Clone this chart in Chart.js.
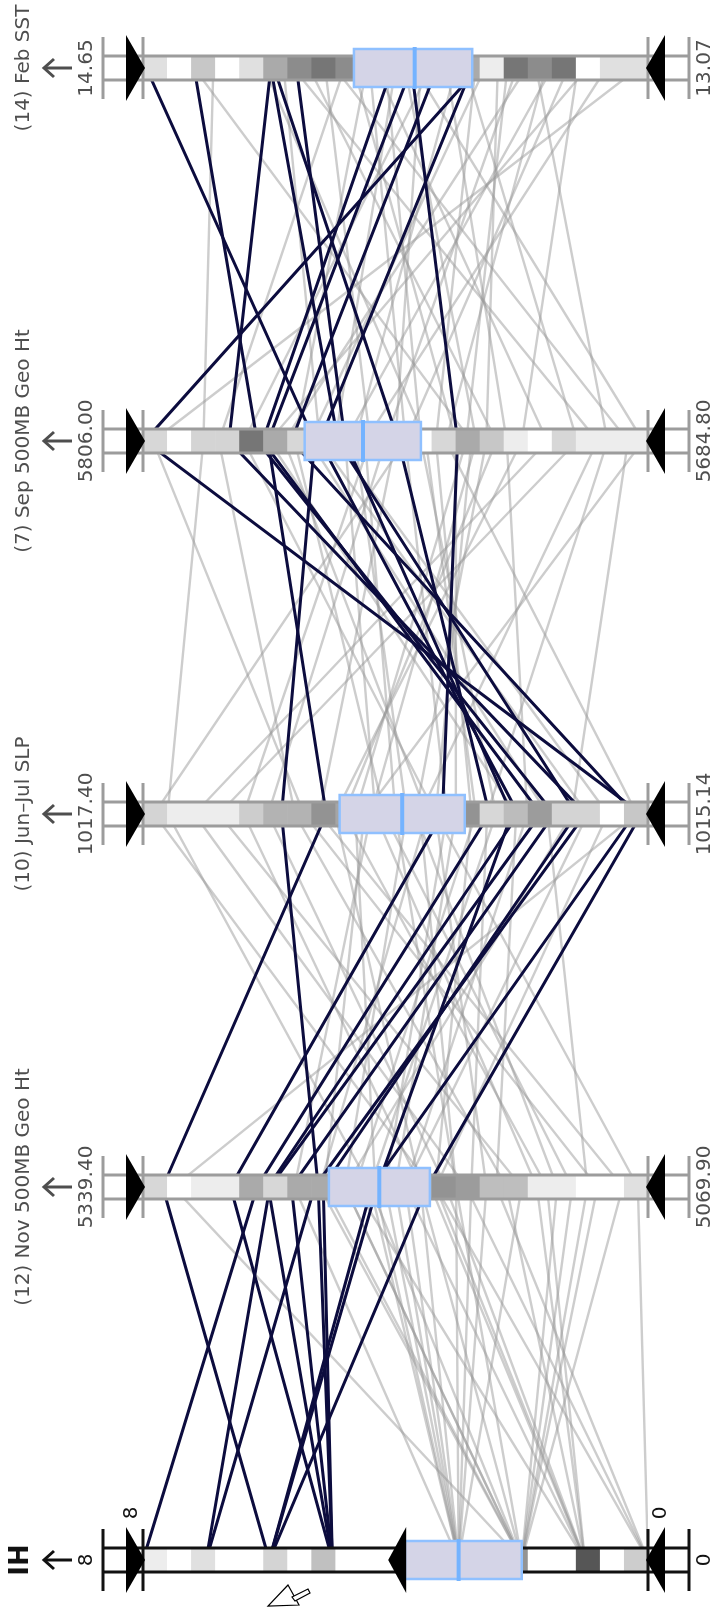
<!DOCTYPE html>
<html lang="en">
<head>
<meta charset="utf-8"/>
<title>Intense hurricanes - parallel coordinates</title>
<script src="https://cdn.jsdelivr.net/npm/chart.js@4.4.0/dist/chart.umd.min.js"></script>
<style>
    body { margin: 0; background: #fff; }
    .wrap { width: 720px; height: 1608px; position: relative; }
</style>
</head>
<body>
<div class="wrap"><canvas id="chart1"></canvas></div>
<script>
// axes, top to bottom
var axisNames = ['(14) Feb SST', '(7) Sep 500MB Geo Ht', '(10) Jun\u2013Jul SLP', '(12) Nov 500MB Geo Ht', 'IH'];
var axisMax = [14.65, 5806.00, 1017.40, 5339.40, 8];
var axisMin = [13.07, 5684.80, 1015.14, 5069.90, 0];
var axisDecimals = [2, 2, 2, 2, 0];

// quartile box per axis (upper quartile, median, lower quartile)
var boxHigh = [13.99, 5767.2, 1016.52, 5240.2, 3.85];
var boxMid = [13.80, 5753.2, 1016.24, 5213.3, 3.0];
var boxLow = [13.62, 5739.3, 1015.96, 5186.3, 2.0];

// density strip along each axis, 21 bins from max to min
var febDensity = [0.17, 0, 0.31, 0, 0.17, 0.47, 0.64, 0.76, 0.64, 0.5, 0.4, 0.5, 0.4, 0.47, 0.1, 0.76, 0.64, 0.76, 0, 0.17, 0.17];
var sepDensity = [0.22, 0, 0.24, 0.24, 0.76, 0.47, 0.22, 0.5, 0.6, 0.6, 0.5, 0, 0.22, 0.47, 0.31, 0.1, 0, 0.22, 0.1, 0.1, 0.1];
var junDensity = [0.24, 0.1, 0.1, 0.1, 0.28, 0.42, 0.42, 0.6, 0.5, 0.6, 0.5, 0.6, 0.5, 0.6, 0.22, 0.37, 0.55, 0.24, 0.24, 0, 0.31];
var novDensity = [0.22, 0, 0.1, 0.1, 0.47, 0.22, 0.47, 0.47, 0.5, 0.6, 0.6, 0.5, 0.6, 0.55, 0.36, 0.36, 0.1, 0.1, 0, 0, 0.17];
var ihDensity = [0.1, 0, 0.17, 0, 0, 0.24, 0, 0.35, 0, 0, 0, 0.5, 0.5, 0.6, 0.5, 0.6, 0, 0, 0.94, 0, 0.28];

// one entry per year
var febSST = [14.64, 14.49, 14.25, 14.25, 14.24, 14.17, 13.87, 13.81, 13.81, 13.73, 13.62, 13.60,
    14.43, 14.18, 14.13, 14.08, 14.05, 14.02, 13.99, 13.95, 13.92, 13.89, 13.86, 13.83, 13.78, 13.75, 13.70, 13.67, 13.64, 13.61,
    13.58, 13.51, 13.48, 13.45, 13.42, 13.39, 13.37, 13.32, 13.29, 13.26, 13.20, 13.10, 14.27, 14.21, 14.49, 13.80, 13.94, 13.54];
var sepGeoHt = [5764.8, 5778.6, 5785.4, 5759.2, 5744.7, 5757.5, 5777.3, 5730.5, 5776.0, 5770.4, 5763.6, 5805.6,
    5791.5, 5696.9, 5721.2, 5751.5, 5689.6, 5787.8, 5730.9, 5769.6, 5709.0, 5739.3, 5759.9, 5726.0, 5745.4, 5781.8, 5718.7, 5755.1,
    5701.8, 5735.7, 5766.0, 5728.4, 5747.8, 5772.1, 5694.5, 5733.3, 5757.5, 5743.0, 5715.1, 5775.7, 5752.7, 5803.6, 5738.1, 5763.6,
    5727.2, 5686.0, 5743.0, 5723.6];
var junJulSLP = [1016.78, 1015.56, 1015.42, 1015.46, 1015.85, 1015.75, 1015.62, 1016.06, 1016.58, 1015.20, 1015.72, 1015.17,
    1017.29, 1016.16, 1016.50, 1016.95, 1015.48, 1016.72, 1016.00, 1016.32, 1017.17, 1015.82, 1015.32, 1016.38, 1016.61, 1016.09,
    1015.68, 1016.22, 1017.06, 1015.93, 1015.59, 1016.45, 1016.84, 1016.13, 1015.86, 1015.19, 1016.36, 1016.04, 1016.54, 1015.73,
    1016.27, 1016.68, 1015.91, 1015.41, 1016.09, 1016.41, 1017.35, 1016.18];
var novGeoHt = [5245.9, 5260.2, 5247.8, 5243.2, 5278.5, 5214.4, 5271.7, 5292.7, 5328.9, 5217.3, 5272.6, 5187.7,
    5218.1, 5172.3, 5123.8, 5191.2, 5231.6, 5145.4, 5204.7, 5110.3, 5166.9, 5218.1, 5183.1, 5258.6, 5083.4, 5156.1, 5199.3, 5231.6,
    5137.3, 5183.1, 5102.2, 5215.4, 5177.7, 5245.1, 5164.2, 5323.2, 5129.2, 5210.0, 5191.2, 5150.8, 5172.3, 5096.9, 5226.2, 5199.3,
    5075.3, 5242.4, 5185.8, 5118.4];
var intenseHurricanes = [5, 5, 7, 5, 8, 6, 7, 5, 6, 6, 5, 6,
    3, 2, 1, 3, 2, 1, 3, 2, 0, 2, 1, 3, 2, 3, 1, 2, 3, 0, 2, 3, 1, 2, 3, 2, 1, 3, 2, 0, 3, 2, 1, 3, 0, 2, 1, 2];

// brushed range on the IH axis
var brushLow = 4.1;
var brushHigh = 8;

var columns = [febSST, sepGeoHt, junJulSLP, novGeoHt, intenseHurricanes];
var densities = [febDensity, sepDensity, junDensity, novDensity, ihDensity];

function norm(axis, v) {
    return (v - axisMin[axis]) / (axisMax[axis] - axisMin[axis]);
}

var datasets = [];
for (var r = 0; r < febSST.length; r++) {
    var pts = columns.map(function (col, i) {
        return { x: norm(i, col[r]), y: i };
    });
    var hit = intenseHurricanes[r] >= brushLow && intenseHurricanes[r] <= brushHigh;
    datasets.push({
        data: pts,
        showLine: true,
        borderColor: hit ? '#0c0c3e' : 'rgba(150,150,150,0.48)',
        borderWidth: hit ? 3 : 2.4,
        pointRadius: 0,
        order: hit ? 0 : 1
    });
}

function rotText(ctx, txt, x, y, font, color) {
    ctx.save();
    ctx.translate(x, y);
    ctx.rotate(-Math.PI / 2);
    ctx.font = font;
    ctx.fillStyle = color;
    ctx.textAlign = 'center';
    ctx.textBaseline = 'middle';
    ctx.fillText(txt, 0, 0);
    ctx.restore();
}

function line(ctx, x1, y1, x2, y2) {
    ctx.beginPath();
    ctx.moveTo(x1, y1);
    ctx.lineTo(x2, y2);
    ctx.stroke();
}

var axisBars = {
    id: 'axisBars',
    afterDatasetsDraw: function (chart) {
        var ctx = chart.ctx;
        var xs = chart.scales.x, ys = chart.scales.y;
        var xL = xs.getPixelForValue(1), xR = xs.getPixelForValue(0);
        var oL = xL - 40, oR = xR + 41;

        for (var i = 0; i < axisNames.length; i++) {
            var y = ys.getPixelForValue(i);
            var isIH = i === axisNames.length - 1;
            var frame = isIH ? '#111' : '#9c9c9c';
            var txt = isIH ? '#111' : '#4e4e4e';

            // white band between the caps
            ctx.fillStyle = '#fff';
            ctx.fillRect(oL, y - 12, oR - oL, 24);

            // density cells
            var d = densities[i];
            var w = (xR - xL) / d.length;
            for (var k = 0; k < d.length; k++) {
                var g = Math.round(255 - d[k] * 180);
                ctx.fillStyle = 'rgb(' + g + ',' + g + ',' + g + ')';
                ctx.fillRect(xL + k * w, y - 11, w + 0.6, 22);
            }

            ctx.strokeStyle = frame;
            ctx.lineWidth = 3;
            line(ctx, oL, y - 12, oR, y - 12);
            line(ctx, oL, y + 12, oR, y + 12);
            [oL, xL, xR, oR].forEach(function (cx) {
                line(ctx, cx, y - 31, cx, y + 31);
            });

            // end triangles
            ctx.fillStyle = '#000';
            ctx.beginPath();
            ctx.moveTo(xL - 17, y - 33);
            ctx.lineTo(xL + 2, y);
            ctx.lineTo(xL - 17, y + 33);
            ctx.closePath();
            ctx.fill();
            ctx.beginPath();
            ctx.moveTo(xR + 17, y - 33);
            ctx.lineTo(xR - 2, y);
            ctx.lineTo(xR + 17, y + 33);
            ctx.closePath();
            ctx.fill();

            // quartile box + median
            var bx1 = xs.getPixelForValue(norm(i, boxHigh[i]));
            var bx2 = xs.getPixelForValue(norm(i, boxLow[i]));
            var mx = xs.getPixelForValue(norm(i, boxMid[i]));
            ctx.fillStyle = '#d4d4e7';
            ctx.fillRect(bx1, y - 19, bx2 - bx1, 38);
            ctx.strokeStyle = '#8fc0ff';
            ctx.lineWidth = 2.5;
            ctx.strokeRect(bx1, y - 19, bx2 - bx1, 38);
            ctx.strokeStyle = '#74b3ff';
            ctx.lineWidth = 4;
            line(ctx, mx, y - 21, mx, y + 21);

            if (isIH) {
                // lower brush handle
                var bx = xs.getPixelForValue(norm(i, brushLow));
                ctx.fillStyle = '#000';
                ctx.beginPath();
                ctx.moveTo(bx + 17, y - 33);
                ctx.lineTo(bx - 1, y);
                ctx.lineTo(bx + 17, y + 33);
                ctx.closePath();
                ctx.fill();
                rotText(ctx, String(brushHigh), xL - 11, y - 47, '20px "DejaVu Sans"', '#111');
                rotText(ctx, String(axisMin[i]), xR + 13, y - 47, '20px "DejaVu Sans"', '#111');
            }

            // labels
            var nameFont = isIH ? 'bold 26px "DejaVu Sans"' : '20px "DejaVu Sans"';
            rotText(ctx, axisNames[i], isIH ? 21 : 24, y, nameFont, txt);
            rotText(ctx, axisMax[i].toFixed(axisDecimals[i]), 87, y, '20px "DejaVu Sans"', txt);
            rotText(ctx, axisMin[i].toFixed(axisDecimals[i]), 705, y, '20px "DejaVu Sans"', txt);

            // arrow pointing to high values
            ctx.strokeStyle = txt;
            ctx.lineWidth = 3;
            line(ctx, 44, y, 72, y);
            ctx.beginPath();
            ctx.moveTo(54, y - 9);
            ctx.lineTo(44, y);
            ctx.lineTo(54, y + 9);
            ctx.stroke();
        }

        // mouse cursor under the IH axis
        var cy = ys.getPixelForValue(4);
        ctx.fillStyle = '#fff';
        ctx.strokeStyle = '#000';
        ctx.lineWidth = 1.2;
        ctx.beginPath();
        ctx.moveTo(288, cy + 25);
        ctx.lineTo(268, cy + 46);
        ctx.lineTo(299, cy + 45);
        ctx.closePath();
        ctx.fill();
        ctx.stroke();
        ctx.beginPath();
        ctx.moveTo(292, cy + 37);
        ctx.lineTo(308, cy + 29);
        ctx.lineTo(310, cy + 33);
        ctx.lineTo(295, cy + 41);
        ctx.closePath();
        ctx.fill();
        ctx.stroke();
    }
};

var chart1 = new Chart(document.getElementById('chart1').getContext('2d'), {
    type: 'scatter',
    data: { datasets: datasets },
    options: {
        responsive: true,
        maintainAspectRatio: false,
        animation: false,
        events: [],
        layout: { padding: { left: 143, right: 72, top: 68, bottom: 48 } },
        scales: {
            x: { type: 'linear', min: 0, max: 1, reverse: true, display: false },
            y: { type: 'linear', min: 0, max: 4, reverse: true, display: false }
        },
        plugins: { legend: { display: false }, tooltip: { enabled: false } }
    },
    plugins: [axisBars]
});
</script>
</body>
</html>
